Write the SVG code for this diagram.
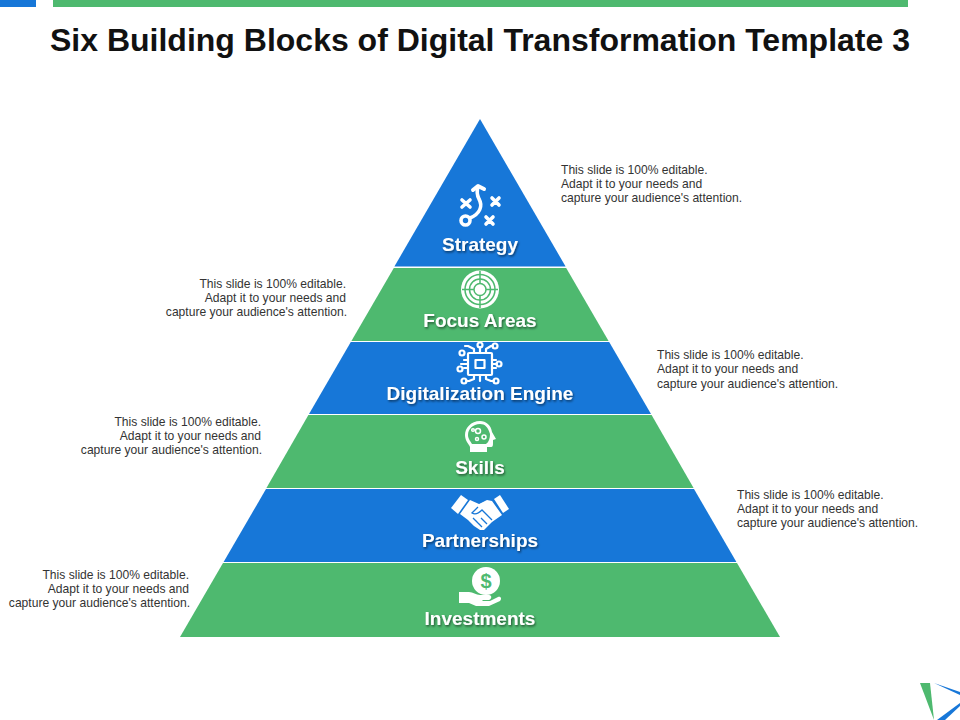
<svg xmlns="http://www.w3.org/2000/svg" width="960" height="720" viewBox="0 0 960 720">
<defs>
<filter id="sh" x="-10%" y="-20%" width="120%" height="150%"><feDropShadow dx="1" dy="1.5" stdDeviation="0.8" flood-color="#000" flood-opacity="0.55"/></filter>
</defs>
<style>
.blue{fill:#1777d8}.green{fill:#4eb96f}
.title{font:bold 32px "Liberation Sans",Arial,sans-serif;fill:#111;text-anchor:middle}
.lab{font:bold 19px "Liberation Sans",Arial,sans-serif;fill:#fff;text-anchor:middle;filter:url(#sh)}
.note{font:12.1px "Liberation Sans",Arial,sans-serif;fill:#333}
.end{text-anchor:end}
.ic{fill:none;stroke:#fff;stroke-width:3.600;stroke-linecap:round;stroke-linejoin:round}
.ict{fill:none;stroke:#fff;stroke-width:2.200;stroke-linecap:round;stroke-linejoin:round}
.icf{fill:#fff}
</style>
<rect class="blue" x="0" y="0" width="36" height="7"/>
<rect class="green" x="53" y="0" width="855" height="7"/>
<text class="title" x="480" y="51">Six Building Blocks of Digital Transformation Template 3</text>

<g id="strategy">
<polygon class="blue" points="480,119 565.6,266.5 394.4,266.5"/>
<g class="ic">
<circle cx="465.500" cy="220.500" r="4.500"/>
<path d="M470 218C480 214 483 206 479 199C477 195 477 190 478 187"/>
<path d="M473 190L478 186L484 189" stroke-width="4"/>
<path d="M462 200L470 207M470 200L462 207M492 198L499 205M499 198L492 205M486 217L493 224M493 217L486 224"/>
</g>
<text class="lab" x="480" y="251">Strategy</text>
</g>

<g id="focus-areas">
<polygon class="green" points="393.800,268 566.200,268 608.600,341 351.400,341"/>
<circle cx="480" cy="289.500" r="19" class="icf"/>
<g fill="none" stroke="#4eb96f" stroke-width="1.500">
<circle cx="480" cy="289.500" r="15"/><circle cx="480" cy="289.500" r="10.500"/><circle cx="480" cy="289.500" r="6"/>
<path d="M480 271V283M480 296V308M462 289.500H474M486 289.500H498"/>
</g>
<text class="lab" x="480" y="326.500">Focus Areas</text>
</g>

<g id="digitalization-engine">
<polygon class="blue" points="350.800,342 609.200,342 651,414 309,414"/>
<g class="ict">
<rect x="468" y="353" width="24" height="22" rx="1"/>
<rect x="475.500" y="360" width="9" height="8"/>
<path d="M474 353V349L468 346H465M480 353V347M486 353V349L491 346H493M468 360H464M468 364H461M468 368H464M492 360H496M492 364H497M492 368H496M474 375V379L469 381H466M480 375V381M486 375V379L491 381H494"/>
<circle cx="462" cy="353" r="2.500"/><circle cx="480" cy="345" r="2.500"/><circle cx="495" cy="346" r="2.500"/><circle cx="460" cy="369" r="2.500"/><circle cx="499" cy="364" r="2.500"/><circle cx="464" cy="381" r="2.500"/><circle cx="496" cy="381" r="2.500"/>
</g>
<text class="lab" x="480" y="400">Digitalization Engine</text>
</g>

<g id="skills">
<polygon class="green" points="308.400,415 651.600,415 693.600,488 266.400,488"/>
<path class="icf" d="M480 421C471 421 465 428 465 435C465 441 469 444 470 447V452H487V447H491C493 447 493 445 493 443V440L496 439L492 432C491 425 486 421 480 421Z"/>
<path d="M480 424C473 424 468 429 468 435C468 439 471 442 472 444H486C489 442 490 438 490 434C488 427 485 424 480 424Z" fill="#4eb96f"/>
<g fill="none" stroke="#fff" stroke-width="1.500"><circle cx="478" cy="431" r="2.500"/><circle cx="484" cy="437" r="2"/><circle cx="473" cy="430" r="1.300"/><circle cx="477" cy="439" r="1.500"/></g>
<text class="lab" x="480" y="473.500">Skills</text>
</g>

<g id="partnerships">
<polygon class="blue" points="266,489 694,489 736.400,562 223.600,562"/>
<g class="icf">
<polygon points="451,508 461,495 468,500 458,514"/>
<polygon points="509,509 500,495 494,499 503,513"/>
<path d="M470 500L479 504L487 500L492 501L502 515L492 522L484 530L480 530L474 526L468 520L460 514Z"/>
</g>
<path d="M478 507L472 513C475 515 479 513 482 510L492 520M478 523L473 518M482 527L476 521M487 524L481 518" fill="none" stroke="#1777d8" stroke-width="1.300"/>
<path d="M479 503L485 500" stroke="#1777d8" stroke-width="1" fill="none"/>
<text class="lab" x="480" y="547">Partnerships</text>
</g>

<g id="investments">
<polygon class="green" points="223,563 737,563 780,637 180,637"/>
<circle class="icf" cx="486" cy="581" r="14"/>
<text x="486" y="588" font-family="Liberation Sans,sans-serif" font-weight="bold" font-size="20" fill="#4eb96f" text-anchor="middle">$</text>
<path class="icf" d="M459 592H469C473 592 476 595 480 595H489C492 595 492 599 489 600H482L483 601H490L498 597C501 596 502 599 500 601L489 606H476L469 603H459Z"/>
<text class="lab" x="480" y="624.500">Investments</text>
</g>

<g id="notes">
<g class="note"><text x="561" y="174">This slide is 100% editable.</text><text x="561" y="188">Adapt it to your needs and</text><text x="561" y="202">capture your audience's attention.</text></g>
<g class="note end"><text x="346" y="288">This slide is 100% editable.</text><text x="346" y="302">Adapt it to your needs and</text><text x="347" y="316">capture your audience's attention.</text></g>
<g class="note"><text x="657" y="359">This slide is 100% editable.</text><text x="657" y="373">Adapt it to your needs and</text><text x="657" y="388">capture your audience's attention.</text></g>
<g class="note end"><text x="261" y="426">This slide is 100% editable.</text><text x="261" y="440">Adapt it to your needs and</text><text x="262" y="454">capture your audience's attention.</text></g>
<g class="note"><text x="737" y="499">This slide is 100% editable.</text><text x="737" y="513">Adapt it to your needs and</text><text x="737" y="527">capture your audience's attention.</text></g>
<g class="note end"><text x="189" y="579">This slide is 100% editable.</text><text x="189" y="593">Adapt it to your needs and</text><text x="190" y="607">capture your audience's attention.</text></g>
</g>

<g id="logo">
<polygon class="green" points="920,683 930,683 934,720"/>
<polygon class="blue" points="934,683 960,692 960,695"/>
<polygon class="blue" points="937,720 960,703 960,706 945,720"/>
</g>
</svg>
